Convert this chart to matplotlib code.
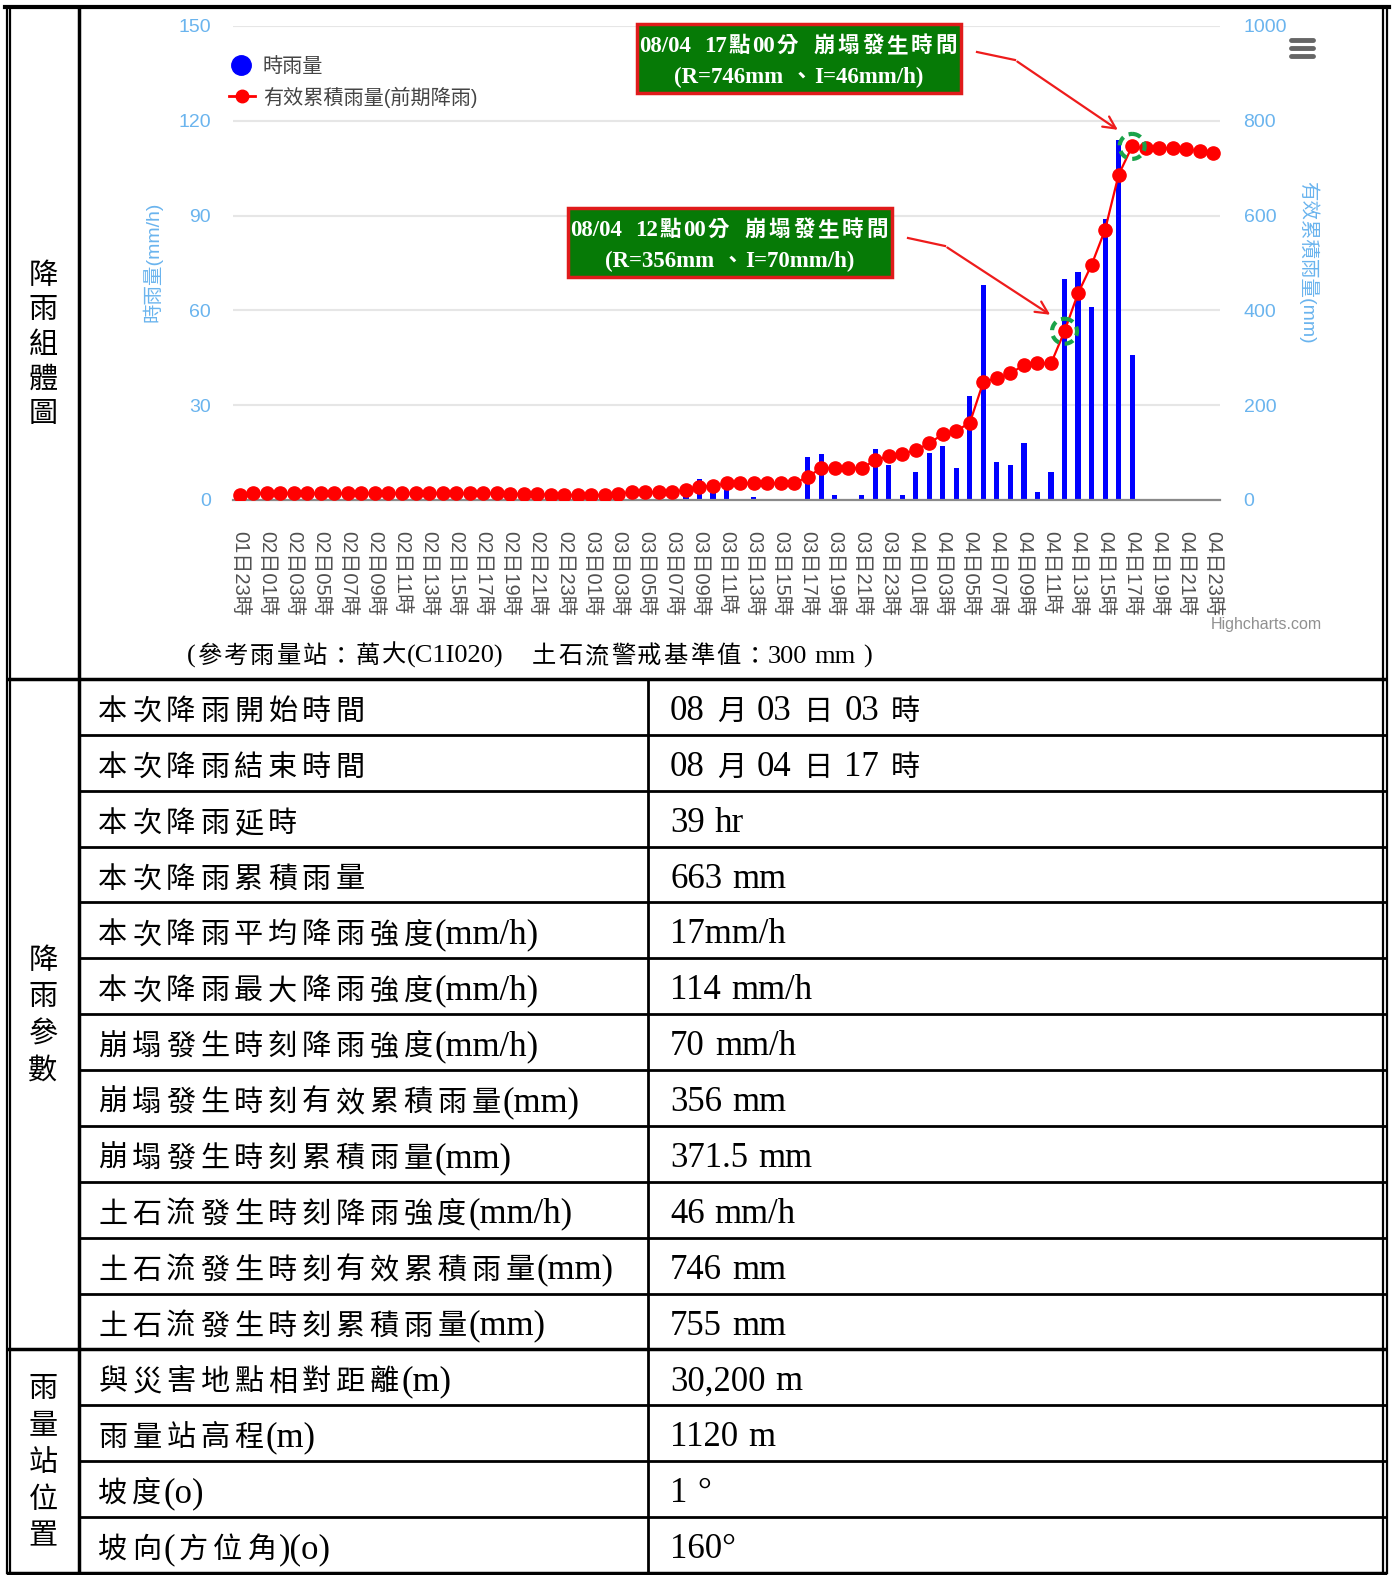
import matplotlib
matplotlib.use('Agg')
import matplotlib.pyplot as plt
from matplotlib.patches import Rectangle, Circle

W, H = 1395, 1575
SANS = ['Liberation Sans', 'Noto Sans CJK TC']
SERIF = ['Liberation Serif', 'Noto Sans CJK TC']
plt.rcParams['font.family'] = SANS

# ---------------- data ----------------
hour_labels = ['01日23時'] + [f'{d:02d}日{h:02d}時' for d in (2, 3, 4) for h in range(24)]

hourly_rain = [0] * 28 + [
    0.5, 0.5, 1, 0.5, 0, 2.5, 6.5, 2.5, 3.5, 0, 1, 0, 0, 0,
    13.5, 14.5, 1.5, 0, 1.5, 16, 11, 1.5, 9, 15, 17, 10, 33, 68, 12,
    11, 18, 2.5, 9, 70, 72, 61, 89, 114, 46,
    0, 0, 0, 0, 0, 0]

effective_rain = [10.5] + [14] * 19 + [13] * 3 + [10.5] * 5 + [
    13.5, 16.5, 16.5, 16.5, 17.5, 21, 28, 29.5, 35, 35, 35, 35, 35, 35,
    49, 67, 67, 67, 67, 84, 93, 97, 105.5, 119.5, 139, 146, 163, 249.5,
    257, 267, 285, 288, 288, 356, 436, 496, 570, 686, 746, 742, 742, 742,
    740, 736, 733]

left_ticks = [0, 30, 60, 90, 120, 150]
right_ticks = [0, 200, 400, 600, 800, 1000]

series_names = ['時雨量', '有效累積雨量(前期降雨)']

events = [  # (index, line1, line2)
    (61, '08/04  12點00分  崩塌發生時間', '(R=356mm 、I=70mm/h)'),
    (66, '08/04  17點00分  崩塌發生時間', '(R=746mm 、I=46mm/h)'),
]

param_labels = ['本次降雨開始時間', '本次降雨結束時間', '本次降雨延時', '本次降雨累積雨量',
                '本次降雨平均降雨強度(mm/h)', '本次降雨最大降雨強度(mm/h)',
                '崩塌發生時刻降雨強度(mm/h)', '崩塌發生時刻有效累積雨量(mm)',
                '崩塌發生時刻累積雨量(mm)', '土石流發生時刻降雨強度(mm/h)',
                '土石流發生時刻有效累積雨量(mm)', '土石流發生時刻累積雨量(mm)',
                '與災害地點相對距離(m)', '雨量站高程(m)', '坡度(o)', '坡向(方位角)(o)']
param_values = ['08 月 03 日 03 時', '08 月 04 日 17 時', '39 hr', '663 mm', '17mm/h',
                '114 mm/h', '70 mm/h', '356 mm', '371.5 mm', '46 mm/h', '746 mm',
                '755 mm', '30,200 m', '1120 m', '1 °', '160°']

caption = '(參考雨量站：萬大(C1I020)　土石流警戒基準值：300 mm )'

# ---------------- figure ----------------
fig = plt.figure(figsize=(W / 100, H / 100), dpi=100)
fig.patch.set_facecolor('white')
RENDERER = fig.canvas.get_renderer()

PL, PR, PT, PB = 233, 1220, 26, 500
ax = fig.add_axes([PL / W, 1 - PB / H, (PR - PL) / W, (PB - PT) / H])
ax.set_xlim(-0.5, len(hour_labels) - 0.5)
ax.set_ylim(0, 150)
ax2 = ax.twinx()
ax2.set_ylim(0, 1000)

x = list(range(len(hour_labels)))
ax.bar(x, hourly_rain, width=0.38, color='#0000ff', zorder=2)
ax2.plot(x, effective_rain, color='#ff0000', lw=1.6, marker='o', ms=9.5,
         mec='#ff0000', zorder=3)

ax.set_axisbelow(True)
ax.set_yticks(left_ticks)
ax.yaxis.grid(True, color='#e6e6e6', lw=1.5)
ax2.set_yticks(right_ticks)
for a in (ax, ax2):
    for s in ('left', 'right', 'top', 'bottom'):
        a.spines[s].set_visible(False)
ax.spines['bottom'].set_visible(True)
ax.spines['bottom'].set_color('#8a8a8a')
ax.spines['bottom'].set_linewidth(1.6)

TICKC = '#6ab4ee'
ax.tick_params(axis='y', length=0, pad=16, labelsize=14, labelcolor=TICKC)
ax2.tick_params(axis='y', length=0, pad=17, labelsize=14, labelcolor=TICKC)
ax.set_xticks(x[::2])
ax.set_xticklabels(hour_labels[::2], rotation=-90, fontsize=14.5, color='#505050')
ax.tick_params(axis='x', length=0, pad=22)

ax.set_ylabel('時雨量(mm/h)', fontsize=14, color=TICKC)
ax.yaxis.set_label_coords((152 - PL) / (PR - PL), (PB - 262) / (PB - PT))
ax.yaxis.label.set_va('center')
ax2.set_ylabel('有效累積雨量(mm)', fontsize=14, color=TICKC, rotation=270)
ax2.yaxis.set_label_coords((1308 - PL) / (PR - PL), (PB - 262) / (PB - PT))
ax2.yaxis.label.set_va('center')
ax2.yaxis.label.set_ha('center')

# ---------------- overlay (pixel coordinates) ----------------
ov = fig.add_axes([0, 0, 1, 1])
ov.set_xlim(0, W)
ov.set_ylim(H, 0)
ov.axis('off')
ov.patch.set_visible(False)


def to_px(axis, xv, yv):
    d = axis.transData.transform((xv, yv))
    return ov.transData.inverted().transform(d)


def is_cjk(ch):
    return ord(ch) >= 0x2E80


def rich_text(x0, base, s, lat_size, cjk_size, cjk_adv, ha='left', weight='normal',
              color='black'):
    """Lay out mixed Latin/CJK text: Latin in a serif, CJK cells with fixed advance."""
    tokens, buf = [], ''
    for ch in s:
        if is_cjk(ch) or ch == ' ':
            if buf:
                tokens.append(('lat', buf))
                buf = ''
            tokens.append(('sp' if ch == ' ' else 'cjk', ch))
        else:
            buf += ch
    if buf:
        tokens.append(('lat', buf))
    lat_px = lat_size * 100 / 72
    items, cur = [], 0.0
    for kind, t in tokens:
        if kind == 'sp':
            cur += 0.25 * lat_px
        elif kind == 'cjk':
            tx = ov.text(0, base, t, family=['Noto Sans CJK TC'], fontsize=cjk_size,
                         va='baseline', ha='center', fontweight=weight, color=color)
            items.append((tx, cur + cjk_adv / 2))
            cur += cjk_adv
        else:
            tx = ov.text(0, base, t, family=['Liberation Serif'], fontsize=lat_size,
                         va='baseline', ha='left', fontweight=weight, color=color)
            w = tx.get_window_extent(renderer=RENDERER).width
            items.append((tx, cur))
            cur += w + 0.04 * lat_px
    off = x0 if ha == 'left' else x0 - cur / 2
    for tx, px in items:
        tx.set_x(off + px)


# legend
ov.plot([241], [65], 'o', ms=14, color='#0000ff')
ov.text(263, 66, series_names[0], fontsize=14.5, color='#444444', va='center', ha='left')
ov.plot([229, 255], [96, 96], color='#ff0000', lw=2)
ov.plot([242], [96], 'o', ms=9, color='#ff0000')
ov.text(263, 97, series_names[1], fontsize=14.5, color='#444444', va='center', ha='left')

# menu icon
for yy in (40, 48, 56):
    ov.plot([1291, 1313], [yy, yy], color='#666666', lw=3.5, solid_capstyle='round')

ov.text(1322, 625, 'Highcharts.com', fontsize=11.5, color='#909090', ha='right', va='center')

# annotation boxes
boxes = [(568, 208, 324, 69, (908, 238), (945, 246)),
         (637, 24, 324, 69, (977, 52), (1015, 60))]
for (idx, l1, l2), (bx, by, bw, bh, p0, p1) in zip(events, boxes):
    ov.add_patch(Rectangle((bx, by), bw, bh, facecolor='#067a06', edgecolor='#e01b1b', lw=2.5))
    rich_text(bx + bw / 2, by + 28, l1, 16.5, 15.5, 24.5, ha='center', weight='bold', color='white')
    rich_text(bx + bw / 2, by + 59, l2, 16.5, 15.5, 24.5, ha='center', weight='bold', color='white')
    cx, cy = to_px(ax2, idx, effective_rain[idx])
    ov.add_patch(Circle((cx, cy), 12.5, fill=False, edgecolor='#1aa34a', lw=3,
                        linestyle=(0, (2.2, 1.4))))
    ov.plot([p0[0], p1[0]], [p0[1], p1[1]], color='#ee1c1c', lw=1.6)
    ov.annotate('', xy=(cx - 12, cy - 15), xytext=p1,
                arrowprops=dict(arrowstyle='->', color='#ee1c1c', lw=1.6, mutation_scale=22))

# caption
rich_text(530, 663, caption, 19, 17.5, 26.3, ha='center')

# ---------------- table ----------------
TOP, ROWH = 679, 55.87
BOT = TOP + 16 * ROWH
LW = 'black'
ov.plot([5, 1389], [6.5, 6.5], color=LW, lw=3)
for xx in (6.5, 10, 1382.5, 1386.5):
    ov.plot([xx, xx], [6.5, BOT], color=LW, lw=1.6)
ov.plot([79, 79], [6.5, BOT], color=LW, lw=2.5)
ov.plot([8, 1385], [TOP, TOP], color=LW, lw=2.5)
ov.plot([648, 648], [TOP, BOT], color=LW, lw=2)
for i in range(1, 17):
    yy = TOP + i * ROWH
    if i in (12, 16):
        ov.plot([8, 1385], [yy, yy], color=LW, lw=2.5)
    else:
        ov.plot([79, 1385], [yy, yy], color=LW, lw=2)

for i, (lab, val) in enumerate(zip(param_labels, param_values)):
    base = TOP + (i + 0.5) * ROWH + 13
    rich_text(96, base, lab, 25, 21, 33.9)
    rich_text(670, base, val, 25, 21, 33.5)

groups = [('降雨組體圖', 277, 34.4), ('降雨參數', 962, 36.3), ('雨量站位置', 1390, 36.8)]
for txt, y0, dy in groups:
    for k, ch in enumerate(txt):
        ov.text(43, y0 + k * dy, ch, family=SERIF, fontsize=21, ha='center', va='center')

fig.savefig('out.png', dpi=100, facecolor='white')
